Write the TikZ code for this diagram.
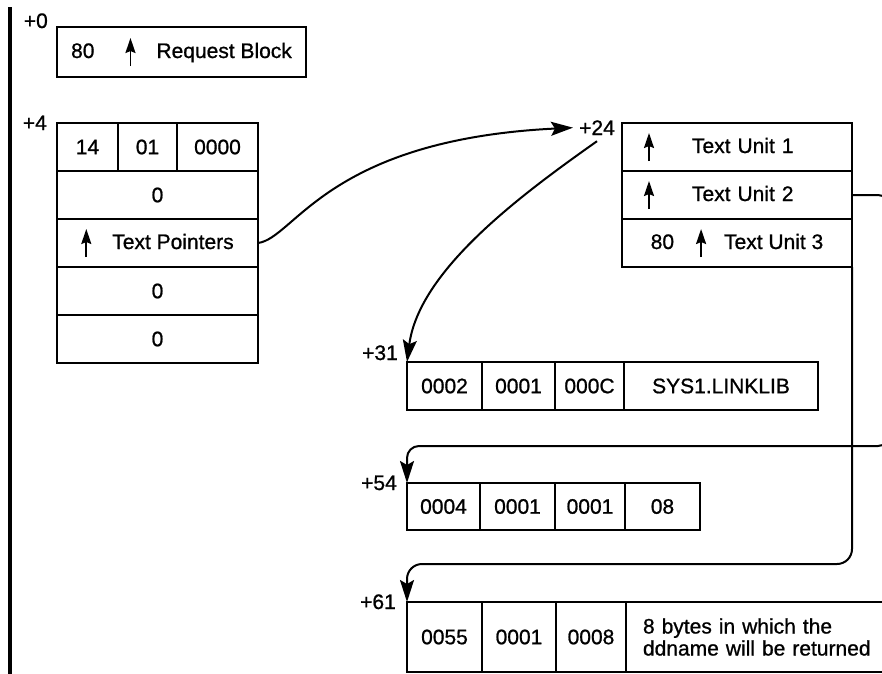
\documentclass[tikz,border=0pt]{standalone}
\usepackage{fontspec}
\setmainfont{Liberation Sans}
\usetikzlibrary{arrows.meta}

\newcommand{\cellfont}{\fontsize{21}{22}\selectfont\addfontfeature{FakeBold=0.9}}
\newcommand{\ptr}{\tikz[baseline=0pt]\draw[line width=1.9pt,-{Stealth[length=15pt,width=10pt,inset=2pt]}] (0pt,-8pt) -- (0pt,20pt);}

\tikzset{
	cell/.style={draw, line width=2pt, inner sep=0pt, outer sep=0pt, anchor=north west, minimum height=48pt, font=\cellfont},
	offset/.style={font=\cellfont, inner sep=0pt, anchor=base east},
	link/.style={draw, line width=2pt, -{Stealth[length=22pt,width=14pt,inset=4pt]}}
}

\begin{document}
\begin{tikzpicture}[x=1pt, y=-1pt]
	\useasboundingbox (0,0) rectangle (882,673);
	\clip (0,0) rectangle (882,673);

	\draw[line width=4.5pt] (10,7) -- (10,680);

	% request block
	\node[cell, minimum width=249pt, minimum height=50pt] (rb) at (57,27) {80\hspace{31pt}\ptr\hspace{21pt}Request Block};
	\node[offset] (off0) at (48,28) {+0};

	% request block proper
	\node[offset] (off4) at (47,130) {+4};
	\node[cell, minimum width=61pt] (len) at (57,123) {14};
	\node[cell, minimum width=59pt] (verb) at (118,123) {01};
	\node[cell, minimum width=81pt] (flags) at (177,123) {0000};
	\node[cell, minimum width=201pt] (err) at (57,171) {0};
	\node[cell, minimum width=201pt] (tptr) at (57,219) {\ptr\hspace{21pt}Text Pointers};
	\node[cell, minimum width=201pt] (rsv1) at (57,267) {0};
	\node[cell, minimum width=201pt] (rsv2) at (57,315) {0};

	% text pointer list
	\node[offset] (off24) at (615,135) {+24};
	\node[cell, minimum width=230pt, text width=186pt, align=left] (tu1) at (622,123) {\ptr\hspace{38pt}Text Unit 1};
	\node[cell, minimum width=230pt, text width=186pt, align=left] (tu2) at (622,171) {\ptr\hspace{38pt}Text Unit 2};
	\node[cell, minimum width=230pt] (tu3) at (622,219) {80\hspace{22pt}\ptr\hspace{18pt}Text Unit 3};

	% text units
	\node[offset] (off31) at (398,360) {+31};
	\node[cell, minimum width=75pt] (u31a) at (407,362) {0002};
	\node[cell, minimum width=73pt] (u31b) at (482,362) {0001};
	\node[cell, minimum width=69pt] (u31c) at (555,362) {000C};
	\node[cell, minimum width=194pt] (u31d) at (624,362) {SYS1.LINKLIB};

	\node[offset] (off54) at (397,490) {+54};
	\node[cell, minimum width=73pt, minimum height=47pt] (u54a) at (407,483) {0004};
	\node[cell, minimum width=75pt, minimum height=47pt] (u54b) at (480,483) {0001};
	\node[cell, minimum width=70pt, minimum height=47pt] (u54c) at (555,483) {0001};
	\node[cell, minimum width=75pt, minimum height=47pt] (u54d) at (625,483) {08};

	\node[offset] (off61) at (396,609) {+61};
	\node[cell, minimum width=75pt, minimum height=70pt] (u61a) at (407,602) {0055};
	\node[cell, minimum width=74pt, minimum height=70pt] (u61b) at (482,602) {0001};
	\node[cell, minimum width=70pt, minimum height=70pt] (u61c) at (556,602) {0008};
	\node[cell, minimum width=274pt, minimum height=70pt, text width=240pt, align=left] (u61d) at (626,602) {8 bytes in which the\\ddname will be returned};

	\begin{scope}[every path/.style={link}]
		\draw (tptr.east) .. controls +(37,-5) and +(-246,12) .. ([xshift=-6pt]off24.west);
		\draw ([yshift=-6pt]off24.south) .. controls +(-75,53) and +(12,-92) .. (u31a.north west);
		\draw[rounded corners=12pt] (tu2.east) -- ++(38,0) |- ([yshift=37pt]u54a.north west) -- (u54a.north west);
		\draw[rounded corners=15pt] (tu3.south east) |- ([yshift=38pt]u61a.north west) -- (u61a.north west);
	\end{scope}

\end{tikzpicture}
\end{document}
